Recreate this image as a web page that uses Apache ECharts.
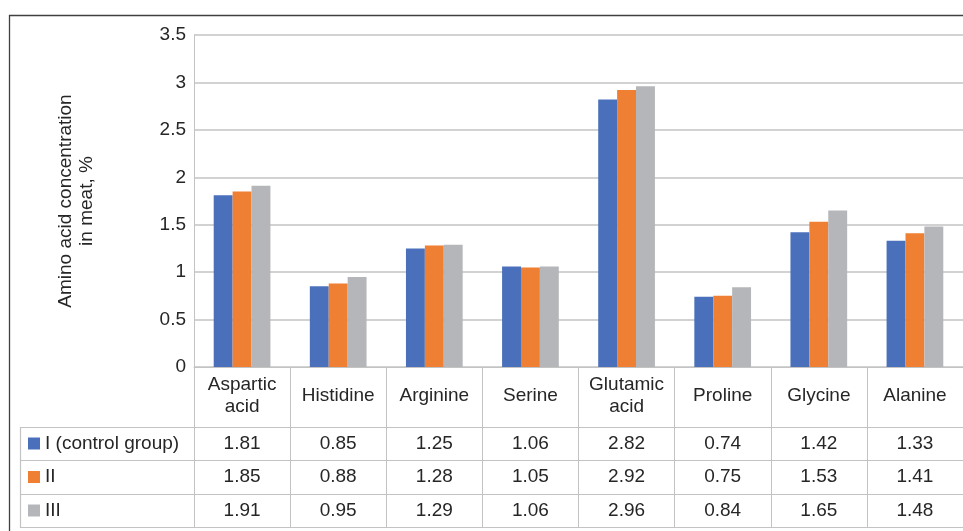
<!DOCTYPE html>
<html>
<head>
    <meta charset="utf-8">
    <title>Amino acid concentration in meat</title>
    <script src="https://cdnjs.cloudflare.com/ajax/libs/echarts/6.0.0/echarts.min.js"></script>
    <style>
        html, body { margin: 0; padding: 0; background: #fff; }
        #chart { width: 963px; height: 531px; }
    </style>
</head>
<body>
    <div id="chart"></div>
    <script>
        // data
        const categories = ['Aspartic\nacid', 'Histidine', 'Arginine', 'Serine', 'Glutamic\nacid', 'Proline', 'Glycine', 'Alanine'];
        const groupNames = ['I (control group)', 'II', 'III'];
        const groupI = [1.81, 0.85, 1.25, 1.06, 2.82, 0.74, 1.42, 1.33];
        const groupII = [1.85, 0.88, 1.28, 1.05, 2.92, 0.75, 1.53, 1.41];
        const groupIII = [1.91, 0.95, 1.29, 1.06, 2.96, 0.84, 1.65, 1.48];
        const colors = ['#4a70bb', '#ee7f33', '#b5b6b9'];

        const font = '"Liberation Sans", Arial, sans-serif';
        const textColor = '#262626';
        const lineColor = '#c3c3c3';
        const fs = 19;
        const allSeries = [groupI, groupII, groupIII];

        // table row centres (px) below the axis line at y = 367
        const rowCenters = [443.5, 477, 510.5];
        const axisY = 367;

        const chart = echarts.init(document.getElementById('chart'));

        const xAxes = [{
            type: 'category',
            data: categories,
            boundaryGap: true,
            axisLine: { show: true, lineStyle: { color: lineColor, width: 1 } },
            axisTick: { show: true, length: 160, lineStyle: { color: lineColor, width: 1 } },
            axisLabel: {
                interval: 0, margin: 29, verticalAlign: 'middle',
                color: textColor, fontSize: fs, lineHeight: 22, fontFamily: font
            }
        }];
        allSeries.forEach((vals, k) => {
            xAxes.push({
                type: 'category',
                data: categories,
                position: 'bottom',
                offset: rowCenters[k] - axisY,
                axisLine: { show: false },
                axisTick: { show: false },
                axisLabel: {
                    interval: 0, margin: 0, verticalAlign: 'middle',
                    color: textColor, fontSize: fs, fontFamily: font,
                    formatter: (v, i) => vals[i].toFixed(2)
                }
            });
        });

        const option = {
            animation: false,
            color: colors,
            textStyle: { fontFamily: font },
            grid: { left: 194, top: 35, width: 774, height: 332, containLabel: false },
            legend: groupNames.map((name, k) => ({
                data: [name],
                left: 28,
                top: rowCenters[k] - 10,
                padding: 0,
                icon: 'rect',
                itemWidth: 12,
                itemHeight: 12,
                selectedMode: false,
                textStyle: { color: textColor, fontSize: fs, lineHeight: 20, fontFamily: font }
            })),
            xAxis: xAxes,
            yAxis: {
                type: 'value',
                min: 0,
                max: 3.5,
                interval: 0.5,
                name: 'Amino acid concentration\nin meat, %',
                nameLocation: 'middle',
                nameGap: 97,
                nameRotate: 90,
                nameTextStyle: { color: textColor, fontSize: fs, lineHeight: 21, fontFamily: font },
                axisLine: { show: true, lineStyle: { color: lineColor, width: 1 } },
                axisTick: { show: false },
                axisLabel: { color: textColor, fontSize: fs, margin: 8, fontFamily: font },
                splitLine: { lineStyle: { color: lineColor, width: 1.5 } }
            },
            series: allSeries.map((vals, k) => ({
                name: groupNames[k],
                type: 'bar',
                data: vals,
                barGap: '0%',
                barCategoryGap: '41%',
                itemStyle: { color: colors[k] }
            })),
            graphic: [
                // outer frame
                { type: 'rect', silent: true, shape: { x: 9.5, y: 15.5, width: 1000, height: 600 },
                  style: { fill: 'none', stroke: '#404040', lineWidth: 1.3 } },
                // table lines
                { type: 'line', silent: true, shape: { x1: 20, y1: 427.5, x2: 970, y2: 427.5 }, style: { stroke: lineColor, lineWidth: 1.2 } },
                { type: 'line', silent: true, shape: { x1: 20, y1: 460.5, x2: 970, y2: 460.5 }, style: { stroke: lineColor, lineWidth: 1.2 } },
                { type: 'line', silent: true, shape: { x1: 20, y1: 494.5, x2: 970, y2: 494.5 }, style: { stroke: lineColor, lineWidth: 1.2 } },
                { type: 'line', silent: true, shape: { x1: 20, y1: 527.5, x2: 970, y2: 527.5 }, style: { stroke: lineColor, lineWidth: 1.2 } },
                { type: 'line', silent: true, shape: { x1: 20.5, y1: 427, x2: 20.5, y2: 528 }, style: { stroke: lineColor, lineWidth: 1.2 } }
            ]
        };
        chart.setOption(option);
    </script>
</body>
</html>
